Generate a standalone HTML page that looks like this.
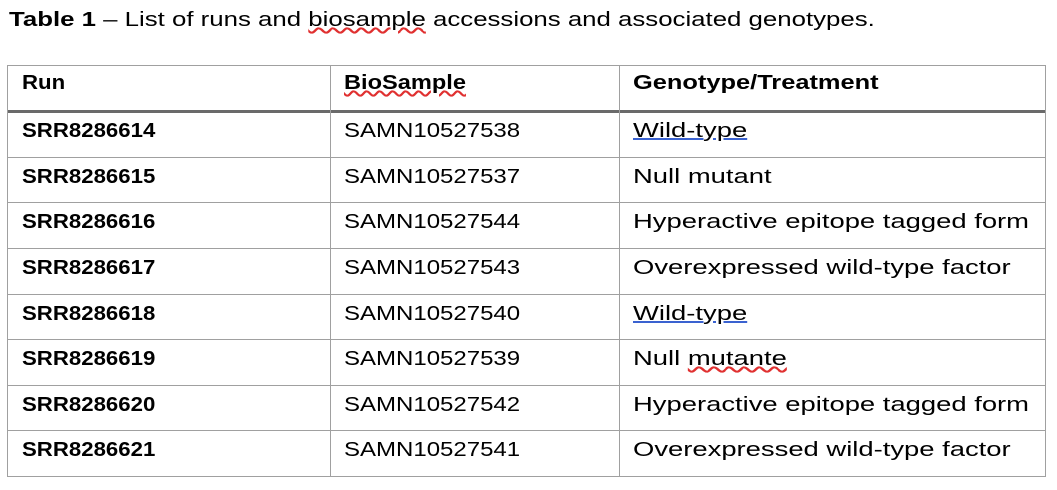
<!DOCTYPE html>
<html><head><meta charset="utf-8"><style>
body{margin:0;width:1057px;height:490px;background:#fff;position:relative;overflow:hidden;font-family:"Liberation Sans",sans-serif;color:#000}
.t{position:absolute;font-size:20px;white-space:nowrap;line-height:1;transform-origin:0 50%}
.h{position:absolute;background:#a0a0a0;height:1px}
.v{position:absolute;background:#a0a0a0;width:1px}
.b{font-weight:bold}
.u{text-decoration:underline;text-decoration-color:#3a62d0}
.w{text-decoration:underline wavy #e03030}
</style></head><body>
<div class="t" style="left:9px;top:10px;transform:scaleX(1.29)"><span class="b">Table 1</span> – List of runs and <span class="w">biosample</span> accessions and associated genotypes.</div>
<div id="tbl"></div>
<script>
const runs=["SRR8286614","SRR8286615","SRR8286616","SRR8286617","SRR8286618","SRR8286619","SRR8286620","SRR8286621"];
const samples=["SAMN10527538","SAMN10527537","SAMN10527544","SAMN10527543","SAMN10527540","SAMN10527539","SAMN10527542","SAMN10527541"];
const genos=["Wild-type","Null mutant","Hyperactive epitope tagged form","Overexpressed wild-type factor","Wild-type","Null mutante","Hyperactive epitope tagged form","Overexpressed wild-type factor"];
const T=document.getElementById('tbl');
const L=7,R=1045,TOP=65,HB=111,BOT=476,C1=330,C2=619,RH=(BOT-HB)/runs.length;
function add(cls,st,txt,name){const d=document.createElement('div');d.className=cls;Object.assign(d.style,st);if(txt!==undefined)d.innerHTML=txt;


T.appendChild(d);return d;}
add('h',{left:L+'px',top:TOP+'px',width:(R-L+1)+'px'},undefined,'table-top-border');
add('h',{left:L+'px',top:(HB-1)+'px',width:(R-L+1)+'px',height:'3px',background:'#6a6a6a'},undefined,'header-rule');
for(let i=1;i<=runs.length;i++)add('h',{left:L+'px',top:Math.round(HB+i*RH)+'px',width:(R-L+1)+'px'},undefined,'row-border');
[L,C1,C2,R].forEach(x=>add('v',{left:x+'px',top:TOP+'px',height:(BOT-TOP+1)+'px'},undefined,'column-border'));
add('t b',{left:'22px',top:(TOP+8)+'px',transform:'scaleX(1.11)'},'Run','header-run');
add('t b',{left:'344px',top:(TOP+8)+'px',transform:'scaleX(1.18)'},'<span class="w">BioSample</span>','header-biosample');
add('t b',{left:'633px',top:(TOP+8)+'px',transform:'scaleX(1.27)'},'Genotype/Treatment','header-genotype');
runs.forEach((r,i)=>{const y=Math.round(HB+i*RH+10)+'px';
add('t b',{left:'22px',top:y,transform:'scaleX(1.11)'},r,'run-cell');
add('t',{left:'344px',top:y,transform:'scaleX(1.2)'},samples[i],'biosample-cell');
let g=genos[i];if(g==='Wild-type')g='<span class="u">Wild-type</span>';if(g==='Null mutante')g='Null <span class="w">mutante</span>';
add('t',{left:'633px',top:y,transform:'scaleX(1.37)'},g,'genotype-cell');});
</script>
</body></html>
